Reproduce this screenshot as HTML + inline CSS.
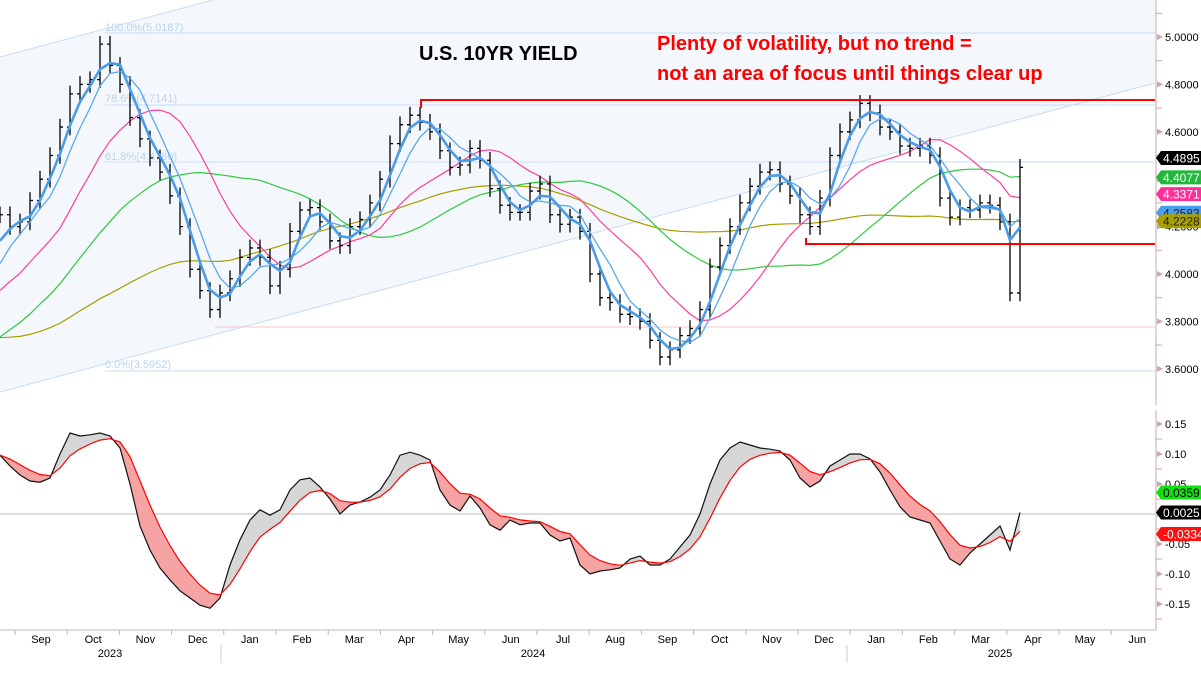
<!DOCTYPE html>
<html><head><meta charset="utf-8"><style>
html,body{margin:0;padding:0;background:#fff;}
svg{display:block;font-family:"Liberation Sans",Tahoma,sans-serif;}
</style></head><body>
<svg id="chart" width="1201" height="675" viewBox="0 0 1201 675" xmlns="http://www.w3.org/2000/svg">
  <g id="bg">
    <polygon points="0,57 213,0 1155,0 1155,83 0,392" fill="#f4f8fd"/>
    <line x1="0" y1="57" x2="213" y2="0" stroke="#c5ddf5" stroke-width="1"/>
    <line x1="0" y1="392" x2="1155" y2="83" stroke="#c5ddf5" stroke-width="1"/>
    <line x1="105" y1="33" x2="1155" y2="33" stroke="#c5ddf5"/>
    <line x1="105" y1="105" x2="1155" y2="105" stroke="#c5ddf5"/>
    <line x1="105" y1="162" x2="1155" y2="162" stroke="#c5ddf5"/>
    <line x1="105" y1="371" x2="1155" y2="371" stroke="#c5ddf5"/>
    <line x1="215" y1="327" x2="1155" y2="327" stroke="#f5c4cc"/>
    <text x="105" y="31" font-size="11" fill="#b9d3ee">100.0%(5.0187)</text>
    <text x="105" y="102" font-size="11" fill="#b9d3ee">78.6%(4.7141)</text>
    <text x="105" y="160" font-size="11" fill="#b9d3ee">61.8%(4.4780)</text>
    <text x="105" y="368" font-size="11" fill="#b9d3ee">0.0%(3.5952)</text>
    <line x1="0" y1="514" x2="1155" y2="514" stroke="#bbbbbb"/>
  </g>
  <g id="marks"></g>
  <g>
    <polyline points="421,108 421,100 1155,100" fill="none" stroke="#ff0000" stroke-width="2"/>
    <polyline points="806,238 806,244 1155,244" fill="none" stroke="#ff0000" stroke-width="2"/>
    <text x="419" y="60" font-size="20" font-weight="bold" fill="#000">U.S. 10YR YIELD</text>
    <text x="657" y="50" font-size="20" font-weight="bold" fill="#ff0000">Plenty of volatility, but no trend =</text>
    <text x="657" y="80" font-size="20" font-weight="bold" fill="#ff0000">not an area of focus until things clear up</text>
  </g>
  <g id="axes">
    <rect x="1156" y="0" width="45" height="675" fill="#fff"/>
    <line x1="1156" y1="0" x2="1156" y2="405" stroke="#c8a8a8"/>
    <line x1="1156" y1="410" x2="1156" y2="630" stroke="#c8a8a8"/>
    <line x1="0" y1="630" x2="1156" y2="630" stroke="#bbbbbb"/>
  </g>
</svg>
<script>
const NS = "http://www.w3.org/2000/svg";
const priceHistory = [3.9,4.0,4.1,4.2,4.1,4.05,3.9,3.8,3.75,3.7,3.55,3.5,3.6,3.75,3.85,3.7,3.55,3.5,3.48,3.52,3.6,3.7,3.82,3.9,3.95,3.95,3.75,3.5,3.45,3.5,3.45,3.4,3.55,3.5,3.45,3.5,3.55,3.7,3.75,3.65,3.75,3.8,3.75,3.85,3.95,4.0,3.85,3.85,3.95,4.05,4.12];
const closes = [4.25,4.20,4.22,4.31,4.40,4.50,4.62,4.76,4.80,4.82,4.97,4.88,4.80,4.66,4.57,4.49,4.43,4.33,4.20,4.02,3.93,3.85,3.92,3.98,4.07,4.11,4.07,3.95,4.02,4.18,4.27,4.28,4.22,4.14,4.12,4.20,4.23,4.30,4.40,4.55,4.63,4.67,4.64,4.60,4.52,4.45,4.46,4.53,4.48,4.36,4.29,4.26,4.26,4.35,4.38,4.25,4.21,4.24,4.18,4.00,3.90,3.88,3.83,3.82,3.80,3.72,3.65,3.68,3.74,3.77,3.85,4.03,4.12,4.20,4.30,4.37,4.43,4.44,4.38,4.33,4.25,4.20,4.32,4.50,4.60,4.65,4.72,4.68,4.62,4.60,4.54,4.53,4.54,4.50,4.32,4.24,4.28,4.27,4.30,4.29,4.22,3.92,4.45];
const oscValues = [.098,.08,.065,.055,.053,.06,.1,.135,.13,.132,.135,.13,.11,.05,-.02,-.06,-.09,-.11,-.128,-.14,-.152,-.157,-.14,-.085,-.043,-.01,.007,-.002,.007,.04,.057,.06,.045,.025,0,.015,.02,.028,.04,.065,.098,.103,.098,.09,.04,.015,.005,.03,.01,-.018,-.027,-.01,-.018,-.015,-.015,-.035,-.045,-.04,-.085,-.1,-.095,-.093,-.09,-.075,-.07,-.085,-.085,-.075,-.055,-.035,0,.05,.09,.11,.12,.115,.11,.108,.105,.09,.06,.045,.055,.08,.09,.1,.1,.092,.07,.04,.012,-.005,-.01,-.015,-.045,-.075,-.085,-.065,-.05,-.035,-.02,-.06,.0025];
const priceTicks = [5.0,4.8,4.6,4.4,4.2,4.0,3.8,3.6];
const oscTicks = [0.15,0.10,0.05,0,-0.05,-0.10,-0.15];
const monthLabels = ["Sep","Oct","Nov","Dec","Jan","Feb","Mar","Apr","May","Jun","Jul","Aug","Sep","Oct","Nov","Dec","Jan","Feb","Mar","Apr","May","Jun"];
const yearLabels = ["2023","2024","2025"];
const priceTagValues = [4.4895,4.4077,4.3371,4.2583,4.2228];
const oscTagValues = [0.0359,0.0025,-0.0334];

const xStep = 10;
const xOf = i => i * xStep;
const yP = v => 37 + (5.0 - v) * 237;
const yO = v => 514 - v * 600;
const monthX = i => 41 + i * 52.2;
const yearX = [110, 533, 1000];
const monthBoundary = i => 15 + i * 52.2;

const marks = document.getElementById('marks');
const axes = document.getElementById('axes');
function mk(tag, attrs, parent) {
  const e = document.createElementNS(NS, tag);
  for (const k in attrs) e.setAttribute(k, attrs[k]);
  (parent || marks).appendChild(e);
  return e;
}

// moving averages
const all = priceHistory.concat(closes);
const H = priceHistory.length;
function sma(n) {
  return closes.map((_, i) => {
    const j = i + H; let s = 0, c = 0;
    for (let k = Math.max(0, j - n + 1); k <= j; k++) { s += all[k]; c++; }
    return s / c;
  });
}
function pathOf(vals, yf) { return vals.map((v, i) => (i ? 'L' : 'M') + xOf(i).toFixed(1) + ',' + yf(v).toFixed(1)).join(''); }
const maSpecs = [
  {n:48, color:'#a8a000', w:1.2, name:'ma-200-olive'},
  {n:24, color:'#2ec940', w:1.2, name:'ma-100-green'},
  {n:12, color:'#ff3d9a', w:1.2, name:'ma-50-pink'}
];
maSpecs.forEach(s => {
  const p = mk('path', {d: pathOf(sma(s.n), yP), fill:'none', stroke:s.color, 'stroke-width':s.w});
  
  
});

// price bars
closes.forEach((c, i) => {
  const o = i ? closes[i - 1] : c;
  const hi = Math.max(o, c) + 0.035, lo = Math.min(o, c) - 0.035;
  const x = xOf(i);
  const g = mk('path', {d:`M${x},${yP(hi)}V${yP(lo)}M${x-3},${yP(o)}H${x}M${x},${yP(c)}H${x+3}`, stroke:'#000', 'stroke-width':1.3, fill:'none'});
  
  
});

const fastSpecs = [
  {n:5, color:'#5aa8ee', w:1.3, name:'ma-fast-thin'},
  {n:3, color:'#4a9be8', w:2.6, name:'ma-fast-thick'}
];
fastSpecs.forEach(s => {
  const p = mk('path', {d: pathOf(sma(s.n), yP), fill:'none', stroke:s.color, 'stroke-width':s.w});
  
  
});

// oscillator
const sig = []; oscValues.forEach((v, i) => sig.push(i ? sig[i - 1] + 0.35 * (v - sig[i - 1]) : v));
for (let i = 1; i < oscValues.length; i++) {
  const d = (oscValues[i] + oscValues[i-1]) - (sig[i] + sig[i-1]);
  const poly = mk('polygon', {points:`${xOf(i-1)},${yO(oscValues[i-1])} ${xOf(i)},${yO(oscValues[i])} ${xOf(i)},${yO(sig[i])} ${xOf(i-1)},${yO(sig[i-1])}`, fill: d >= 0 ? '#d6d6d6' : '#f6a3a3', stroke:'none'});
  
  
}
const oscLine = mk('path', {d: pathOf(oscValues, yO), fill:'none', stroke:'#111', 'stroke-width':1.2});


const sigLine = mk('path', {d: pathOf(sig, yO), fill:'none', stroke:'#ff0000', 'stroke-width':1.2});



// axes ticks
priceTicks.forEach(v => {
  const y = yP(v);
  const t = mk('polygon', {points:`1157,${y-3} 1163,${y} 1157,${y+3}`, fill:'#c8a8a8'}, axes);
  
  
  const m = mk('line', {x1:1156, x2:1162, y1:y-23.7, y2:y-23.7, stroke:'#c8a8a8'}, axes);
  
  
  const l = mk('text', {x:1165, y:y+4, 'font-size':11, fill:'#000'}, axes);
  l.textContent = v.toFixed(4);
  
  
});
oscTicks.forEach(v => {
  const y = yO(v);
  const t = mk('polygon', {points:`1157,${y-3} 1163,${y} 1157,${y+3}`, fill:'#c8a8a8'}, axes);
  
  
  const m = mk('line', {x1:1156, x2:1162, y1:y+15, y2:y+15, stroke:'#c8a8a8'}, axes);
  
  
  if (v === 0) return;
  const l = mk('text', {x:1165, y:y+4, 'font-size':11, fill:'#000'}, axes);
  l.textContent = v.toFixed(2);
  
  
});
monthLabels.forEach((m, i) => {
  const t = mk('text', {x:monthX(i), y:643, 'font-size':11, 'text-anchor':'middle', fill:'#000'}, axes);
  t.textContent = m;
  
  
  const tk = mk('line', {x1:monthBoundary(i), x2:monthBoundary(i), y1:630, y2:635, stroke:'#bbbbbb'}, axes);
  
  
});
yearLabels.forEach((y, i) => {
  const t = mk('text', {x:yearX[i], y:657, 'font-size':11, 'text-anchor':'middle', fill:'#000'}, axes);
  t.textContent = y;
  
  
});
[221, 847].forEach(x => {
  const s = mk('line', {x1:x, x2:x, y1:645, y2:663, stroke:'#cccccc'}, axes);
  
  
});

// value tags
function tag(v, yf, bg, fg, dec, name) {
  const y = yf(v);
  const p = mk('polygon', {points:`1156,${y} 1161,${y-7} 1201,${y-7} 1201,${y+7} 1161,${y+7}`, fill:bg}, axes);
  
  
  const t = mk('text', {x:1163, y:y+4.5, 'font-size':12, fill:fg}, axes);
  t.textContent = v.toFixed(dec);
  
  
}
const pColors = [['#000','#fff'],['#22b83a','#fff'],['#ff2f9a','#fff'],['#4aa0ee','#222'],['#a8a000','#222']];
priceTagValues.forEach((v, i) => tag(v, yP, pColors[i][0], pColors[i][1], 4, 'price-tag'));
const oColors = [['#11e011','#000'],['#000','#fff'],['#ff1010','#fff']];
const oOrder = [0, 2, 1];
oOrder.forEach(i => tag(oscTagValues[i], yO, oColors[i][0], oColors[i][1], 4, 'osc-tag'));
</script>
</body></html>
